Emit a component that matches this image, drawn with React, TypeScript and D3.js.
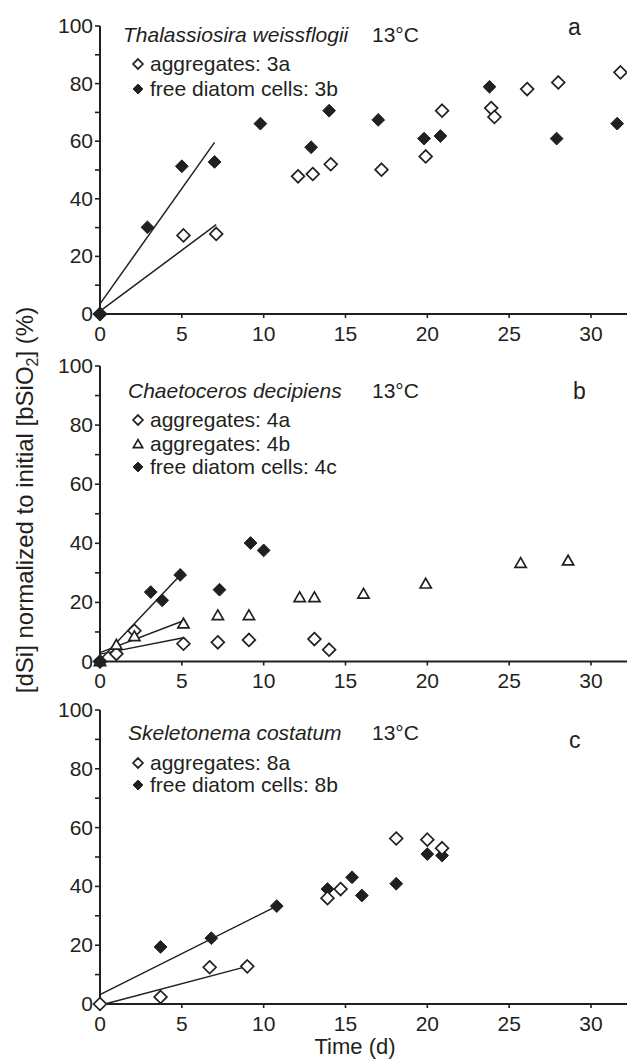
import * as d3 from 'd3'

// ---- data (day, % dSi) ----
const thalAggregates = [
  [0, 0], [5.1, 27.3], [7.1, 27.8], [12.1, 47.8], [13.0, 48.6], [14.1, 52.0],
  [17.2, 50.1], [19.9, 54.7], [20.9, 70.6], [23.9, 71.5], [24.1, 68.4],
  [26.1, 78.1], [28.0, 80.4], [31.8, 83.9],
]
const thalFree = [
  [0, 0], [2.9, 30.1], [5.0, 51.3], [7.0, 52.8], [9.8, 66.1], [12.9, 57.9],
  [14.0, 70.6], [17.0, 67.4], [19.8, 60.9], [20.8, 61.8], [23.8, 78.9],
  [27.9, 60.9], [31.6, 66.1],
]
const thalAggFit = [[0, 1], [7.1, 31]]
const thalFreeFit = [[0, 3.5], [7.0, 59.6]]

const chaetoAgg4a = [
  [0, 0], [1.0, 2.6], [2.1, 10.4], [5.1, 6.0], [7.2, 6.5], [9.1, 7.3],
  [13.1, 7.6], [14.0, 4.0],
]
const chaetoAgg4b = [
  [0, 0], [1.0, 5.6], [2.1, 8.5], [5.1, 12.8], [7.2, 15.6], [9.1, 15.6],
  [12.2, 21.7], [13.1, 21.7], [16.1, 22.9], [19.9, 26.3], [25.7, 33.3],
  [28.6, 34.1],
]
const chaetoFree = [
  [0, 0], [3.1, 23.5], [3.8, 20.7], [4.9, 29.3], [7.3, 24.3], [9.2, 40.1],
  [10.0, 37.6],
]
const chaetoAgg4aFit = [[0, 2.5], [5.1, 8.0]]
const chaetoAgg4bFit = [[0, 3.0], [5.1, 13.8]]
const chaetoFreeFit = [[0, 0.5], [4.9, 29.2]]

const skelAggregates = [
  [0, 0], [3.7, 2.4], [6.7, 12.5], [9.0, 12.8], [13.9, 36.0], [14.7, 39.1],
  [18.1, 56.3], [20.0, 55.9], [20.9, 53.0],
]
const skelFree = [
  [3.7, 19.4], [6.8, 22.4], [10.8, 33.3], [13.9, 39.1], [15.4, 43.1],
  [16.0, 36.9], [18.1, 40.9], [20.0, 51.0], [20.9, 50.5],
]
const skelAggFit = [[0.3, 0], [9.0, 12.8]]
const skelFreeFit = [[0, 3.2], [10.8, 33.3]]

const xTickLabels = [0, 5, 10, 15, 20, 25, 30]
const yTickLabels = [0, 20, 40, 60, 80, 100]
const yMinorTicks = [10, 30, 50, 70, 90]

const ink = '#231f20'
const font = '"Liberation Sans", Arial, Helvetica, sans-serif'

const W = 627
const H = 1059

const diamond = d3.symbol(d3.symbolDiamond2, 104)()
const legendDiamond = d3.symbol(d3.symbolDiamond2, 62)()
const triangle = d3.symbol(d3.symbolTriangle2, 90)()
const legendTriangle = d3.symbol(d3.symbolTriangle2, 62)()

type Series = { data: number[][]; shape: 'open' | 'filled' | 'tri' }

const panels = [
  {
    y0: 314, y100: 26, title: 'Thalassiosira weissflogii', titleX: 123, titleY: 42,
    letter: 'a', letterX: 568, letterY: 35,
    legend: [
      { shape: 'open', label: 'aggregates: 3a', y: 71 },
      { shape: 'filled', label: 'free diatom cells: 3b', y: 96 },
    ],
    fits: [thalAggFit, thalFreeFit],
    series: [
      { data: thalAggregates, shape: 'open' },
      { data: thalFree, shape: 'filled' },
    ] as Series[],
  },
  {
    y0: 661.5, y100: 366, title: 'Chaetoceros decipiens', titleX: 128, titleY: 398,
    letter: 'b', letterX: 573, letterY: 399,
    legend: [
      { shape: 'open', label: 'aggregates: 4a', y: 427 },
      { shape: 'tri', label: 'aggregates: 4b', y: 451 },
      { shape: 'filled', label: 'free diatom cells: 4c', y: 474 },
    ],
    fits: [chaetoAgg4aFit, chaetoAgg4bFit, chaetoFreeFit],
    series: [
      { data: chaetoAgg4a, shape: 'open' },
      { data: chaetoAgg4b, shape: 'tri' },
      { data: chaetoFree, shape: 'filled' },
    ] as Series[],
  },
  {
    y0: 1004, y100: 710, title: 'Skeletonema costatum', titleX: 128, titleY: 740,
    letter: 'c', letterX: 569, letterY: 748,
    legend: [
      { shape: 'open', label: 'aggregates: 8a', y: 770 },
      { shape: 'filled', label: 'free diatom cells: 8b', y: 792 },
    ],
    fits: [skelAggFit, skelFreeFit],
    series: [
      { data: skelFree, shape: 'filled' },
      { data: skelAggregates, shape: 'open' },
    ] as Series[],
  },
]

const x = d3.scaleLinear().domain([0, 30]).range([100, 591])

function Marker({ shape, cx, cy, legend = false }: { shape: string; cx: number; cy: number; legend?: boolean }) {
  const d = shape === 'tri' ? (legend ? legendTriangle : triangle) : legend ? legendDiamond : diamond
  const dy = shape === 'tri' ? 1 : 0
  return (
    <path
      d={d}
      transform={`translate(${cx},${cy + dy})`}
      fill={shape === 'filled' ? ink : '#fff'}
      stroke={ink}
      strokeWidth={shape === 'filled' ? 1 : 1.7}
      strokeLinejoin="miter"
    />
  )
}

function Panel({ p }: { p: (typeof panels)[number] }) {
  const y = d3.scaleLinear().domain([0, 100]).range([p.y0, p.y100])
  const line = d3.line<number[]>().x(d => x(d[0])).y(d => y(d[1]))
  return (
    <g>
      {/* axes */}
      <line x1={x(0)} x2={W} y1={y(0)} y2={y(0)} stroke={ink} strokeWidth={2} />
      <line x1={x(0)} x2={x(0)} y1={y(0)} y2={y(100)} stroke={ink} strokeWidth={2} />
      {xTickLabels.map(t => (
        <g key={'x' + t}>
          <line x1={x(t)} x2={x(t)} y1={y(0)} y2={y(0) + 4} stroke={ink} strokeWidth={1.6} />
          <text x={x(t)} y={y(0) + 26.5} textAnchor="middle" fontSize={21} fill={ink}>{t}</text>
        </g>
      ))}
      {yTickLabels.concat(yMinorTicks).map(t => (
        <line key={'yt' + t} x1={x(0) - 5} x2={x(0)} y1={y(t)} y2={y(t)} stroke={ink} strokeWidth={1.6} />
      ))}
      {yTickLabels.map(t => (
        <text key={'yl' + t} x={93} y={y(t) + 7} textAnchor="end" fontSize={21} fill={ink}>{t}</text>
      ))}

      {/* title + legend */}
      <text x={p.titleX} y={p.titleY} fontSize={21} fontStyle="italic" fill={ink}>{p.title}</text>
      <text x={372} y={p.titleY} fontSize={21} fill={ink}>13°C</text>
      <text x={p.letterX} y={p.letterY} fontSize={23} fill={ink}>{p.letter}</text>
      {p.legend.map(l => (
        <g key={l.label}>
          <Marker shape={l.shape} cx={138} cy={l.y - 7} legend />
          <text x={150} y={l.y} fontSize={21} fill={ink}>{l.label}</text>
        </g>
      ))}

      {/* regression lines */}
      {p.fits.map((f, i) => (
        <path key={'f' + i} d={line(f) ?? ''} stroke={ink} strokeWidth={1.5} fill="none" />
      ))}

      {/* points */}
      {p.series.map((s, i) => (
        <g key={'s' + i}>
          {s.data.map((d, j) => (
            <Marker key={j} shape={s.shape} cx={x(d[0])} cy={y(d[1])} />
          ))}
        </g>
      ))}
    </g>
  )
}

export default function App() {
  return (
    <svg
      width={W}
      height={H}
      style={{ position: 'absolute', left: 0, top: 0, background: '#fff' }}
      fontFamily={font}
    >
      {panels.map(p => (
        <Panel key={p.letter} p={p} />
      ))}
      <text x={355} y={1054} textAnchor="middle" fontSize={22} fill={ink}>Time (d)</text>
      <text transform="translate(33,500) rotate(-90)" textAnchor="middle" fontSize={24} fill={ink}>
        [dSi] normalized to initial [bSiO
        <tspan dy={5} fontSize={16}>2</tspan>
        <tspan dy={-5}>] (%)</tspan>
      </text>
    </svg>
  )
}
